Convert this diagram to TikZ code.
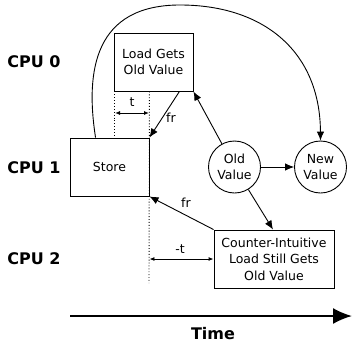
\documentclass[tikz,border=0pt]{standalone}
\usepackage{fontspec}
\setmainfont{DejaVu Sans}
\usetikzlibrary{arrows.meta,calc}
\begin{document}
\begin{tikzpicture}[x=1pt,y=-1pt,
  txt/.style={font=\fontsize{12.5}{16.5}\selectfont},
  cpulab/.style={font=\fontsize{16}{18}\selectfont\bfseries},
  box/.style={draw,line width=0.9pt,inner sep=0pt,align=center,txt},
  val/.style={draw,circle,line width=0.9pt,minimum size=52pt,inner sep=0pt,align=center,txt},
  conn/.style={line width=0.9pt,-{Latex[length=9pt,width=7.5pt]}},
  dim/.style={line width=0.9pt,{Latex[length=5pt,width=4pt]}-{Latex[length=5pt,width=4pt]}},
  guide/.style={dotted,line width=0.9pt}]
\useasboundingbox (0,0) rectangle (352,345);
% CPU labels
\node[cpulab] (cpu0) at (34,62) {CPU 0};
\node[cpulab] (cpu1) at (34,168) {CPU 1};
\node[cpulab] (cpu2) at (34,259) {CPU 2};
% boxes
\node[box,minimum width=79pt,minimum height=58pt] (load) at (153.5,62) {Load Gets\\Old Value};
\node[box,minimum width=79pt,minimum height=58pt] (store) at (109.5,167) {Store};
\node[box,minimum width=120pt,minimum height=58pt] (counter) at (274,259) {Counter-Intuitive\\Load Still Gets\\Old Value};
\node[val] (old) at (234.5,167) {Old\\Value};
\node[val] (new) at (320.5,167) {New\\Value};
% guides
\coordinate (g1top) at (load.south west);
\coordinate (g1bot) at (load.south west |- store.north);
\coordinate (g2top) at (store.east |- load.south);
\coordinate (g2bot) at (149,283);
\draw[guide] ($(g1top)+(1,0)$) -- ($(g1bot)+(1,0)$);
\draw[guide] (g2top) -- (g2bot);
% t and -t
\coordinate (ta) at (115,113);
\coordinate (tb) at (149,113);
\draw[dim] (ta) -- (tb);
\node[txt] (tlab) at (132,102) {t};
\coordinate (mta) at (counter.west -| store.east);
\draw[dim] (mta) -- (counter.west);
\node[txt] (mtlab) at (180,249) {-t};
% fr arrows
\coordinate (fr1s) at ($(load.south east)+(-14,0)$);
\draw[conn] (fr1s) -- (store.north east);
\node[txt] (fr1lab) at (171,118) {fr};
\draw[conn] (counter.north west) -- (store.south east);
\node[txt] (fr2lab) at (186,203) {fr};
% value arrows
\draw[conn] (old) -- (load.south east);
\draw[conn] (old) -- (new);
\draw[conn] (old) -- ($(counter.north)+(-1,0)$);
% curve
\coordinate (cs) at ($(store.north west)+(26,0)$);
\coordinate (ctop) at (180,5);
\draw[conn] (cs) .. controls (85,70) and (95,5) .. (ctop)
  .. controls (262,5) and (320,50) .. (new.north);
% time
\coordinate (t0) at (70,316);
\coordinate (t1) at (352,316);
\draw[line width=2pt,-{Latex[length=19pt,width=16pt]}] (t0) -- (t1);
\node[cpulab] (time) at (213,334) {Time};
\end{tikzpicture}
\end{document}
